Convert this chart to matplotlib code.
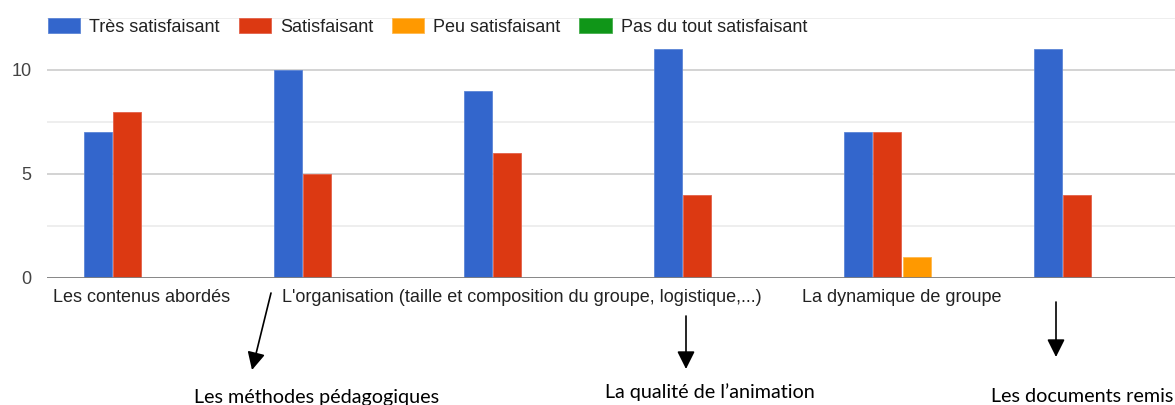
import matplotlib
matplotlib.use("Agg")
import matplotlib.pyplot as plt
from matplotlib.patches import Patch
import matplotlib.transforms as mtrans
import numpy as np

categories = [
    "Les contenus abordés",
    "Les méthodes pédagogiques",
    "L'organisation (taille et composition du groupe, logistique,...)",
    "La qualité de l’animation",
    "La dynamique de groupe",
    "Les documents remis",
]
series_names = ["Très satisfaisant", "Satisfaisant", "Peu satisfaisant", "Pas du tout satisfaisant"]
tres_satisfaisant = [7, 10, 9, 11, 7, 11]
satisfaisant = [8, 5, 6, 4, 7, 4]
peu_satisfaisant = [0, 0, 0, 0, 1, 0]
pas_du_tout = [0, 0, 0, 0, 0, 0]
yticks = [0, 5, 10]

colors = ["#3366CC", "#DC3912", "#FF9900", "#109618"]
edges = ["#5C85D6", "#E3614A", "#FFB84D", "#45AE4C"]
FONT = ["Liberation Sans", "DejaVu Sans"]
FS = 13

W, H = 1175, 405
fig = plt.figure(figsize=(W / 100, H / 100), dpi=100)
ax = fig.add_axes([47 / W, (H - 278) / H, 1140 / W, 260 / H])

series = [tres_satisfaisant, satisfaisant, peu_satisfaisant, pas_du_tout]
x = np.arange(len(categories))
slot = 0.155
for j, vals in enumerate(series):
    vals = np.array(vals, dtype=float)
    mask = vals > 0
    ax.bar(x[mask] + (j - 1.5) * slot, vals[mask], width=0.148,
           color=colors[j], edgecolor=edges[j], linewidth=0.6, zorder=3)

ax.set_xlim(-0.5, 5.5)
ax.set_ylim(0, 12.5)
ax.set_yticks(yticks)
ax.set_yticks([2.5, 7.5, 12.5], minor=True)
ax.grid(axis="y", which="major", color="#cccccc", linewidth=1.2, zorder=0)
ax.grid(axis="y", which="minor", color="#ebebeb", linewidth=1.2, zorder=0)
ax.axhline(0, color="#808080", linewidth=2, zorder=4)
for s in ax.spines.values():
    s.set_visible(False)
ax.tick_params(axis="y", which="both", length=0, pad=11, labelsize=FS, labelcolor="#444444")
ax.set_xticks(x)
ax.set_xticklabels([c if i % 2 == 0 else "" for i, c in enumerate(categories)],
                   fontsize=FS, color="#222222")
ax.tick_params(axis="x", length=0, pad=8)
for lab in ax.get_yticklabels() + ax.get_xticklabels():
    lab.set_family(FONT)

handles = [Patch(facecolor=c, edgecolor=e, linewidth=0.6) for c, e in zip(colors, edges)]
leg = fig.legend(handles, series_names, loc="center left", bbox_to_anchor=(48 / W, 1 - 27 / H),
                 ncol=4, frameon=False, handlelength=1.78, handleheight=0.9,
                 handletextpad=0.5, columnspacing=1.05, borderaxespad=0, borderpad=0,
                 prop={"family": FONT, "size": FS})
for t in leg.get_texts():
    t.set_color("#222222")

# annotations for the category labels hidden by the chart
trans = mtrans.blended_transform_factory(ax.transData, fig.transFigure)
ann_pos = {1: (-0.08, 402.5), 3: (-0.01, 398), 5: (-0.05, 402.5)}
for i, (dx, yb) in ann_pos.items():
    ax.text(i + dx, 1 - yb / H, categories[i], transform=trans, ha="center", va="baseline",
            fontsize=14.2, family=["Lato", "DejaVu Sans"], color="black")

arrows = [((271, 293), (252, 370)), ((686, 316), (686, 369)), ((1056, 302), (1056, 357))]
for (tx, ty), (hx, hy) in arrows:
    fig.add_artist(matplotlib.patches.FancyArrowPatch(
        (tx / W, 1 - ty / H), (hx / W, 1 - hy / H), transform=fig.transFigure,
        arrowstyle="-|>,head_length=0.6,head_width=0.3", mutation_scale=18,
        color="black", linewidth=1.2, shrinkA=0, shrinkB=0))

fig.savefig("out.png", dpi=100)
